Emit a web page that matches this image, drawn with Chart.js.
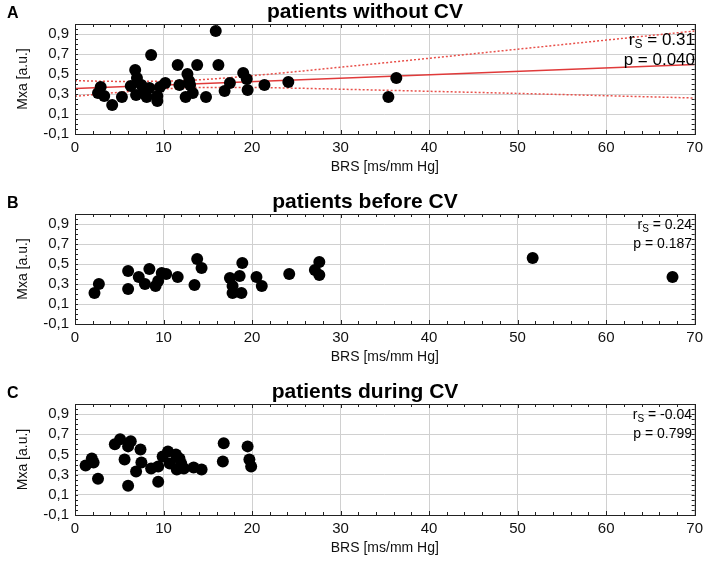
<!DOCTYPE html>
<html>
<head>
<meta charset="utf-8">
<script src="https://cdn.jsdelivr.net/npm/chart.js@4.4.0/dist/chart.umd.min.js"></script>
<style>
    body { margin: 0; background: #fff; }
    canvas { display: block; }
</style>
</head>
<body>
<canvas id="chartA" width="708" height="190"></canvas>
<canvas id="chartB" width="708" height="190"></canvas>
<canvas id="chartC" width="708" height="191"></canvas>
<script>
// Datos
const brsA = [2.9, 2.6, 3.3, 4.2, 5.3, 6.3, 6.8, 7.0, 6.9, 7.5, 7.7, 8.1, 8.4, 8.6, 9.3, 9.3, 9.6, 10.2, 11.6, 11.8,
              12.5, 12.7, 12.9, 13.0, 13.3, 13.8, 14.8, 15.9, 16.2, 16.9, 17.5, 19.0, 19.4, 19.5, 21.4, 24.1, 35.4, 36.3];
const mxaA = [0.37, 0.31, 0.28, 0.19, 0.27, 0.38, 0.54, 0.46, 0.29, 0.39, 0.31, 0.27, 0.36, 0.69, 0.28, 0.23, 0.37, 0.41, 0.59, 0.39,
              0.27, 0.50, 0.43, 0.39, 0.31, 0.59, 0.27, 0.93, 0.59, 0.33, 0.41, 0.51, 0.45, 0.34, 0.39, 0.42, 0.27, 0.46];

const brsB = [2.2, 2.7, 6.0, 6.0, 7.2, 7.9, 8.4, 9.1, 9.4, 9.8, 10.3, 11.6, 13.5, 13.8, 14.3, 17.5, 17.8, 17.8, 18.6, 18.8,
              18.9, 20.5, 21.1, 24.2, 27.1, 27.6, 27.6, 51.7, 67.5];
const mxaB = [0.21, 0.30, 0.43, 0.25, 0.37, 0.30, 0.45, 0.28, 0.33, 0.41, 0.40, 0.37, 0.29, 0.55, 0.46, 0.36, 0.28, 0.21, 0.38, 0.21,
              0.51, 0.37, 0.28, 0.40, 0.44, 0.52, 0.39, 0.56, 0.37];

const brsC = [1.2, 1.9, 2.1, 2.6, 4.5, 5.1, 6.0, 6.3, 5.6, 6.0, 6.9, 7.4, 7.5, 8.6, 9.4, 9.4, 9.9, 10.5, 10.7, 11.4,
              11.8, 11.5, 12.0, 12.3, 13.4, 14.3, 16.8, 16.7, 19.5, 19.7, 19.9];
const mxaC = [0.39, 0.46, 0.42, 0.26, 0.60, 0.65, 0.58, 0.63, 0.45, 0.19, 0.33, 0.55, 0.42, 0.36, 0.38, 0.23, 0.48, 0.53, 0.41, 0.50,
              0.46, 0.35, 0.41, 0.36, 0.37, 0.35, 0.61, 0.43, 0.58, 0.45, 0.38];

// Recta de regresion y banda de confianza (solo panel A)
const fitX = [0, 70];
const fitY = [0.355, 0.595];
const bandX = [0, 5, 10, 15, 20, 25, 30, 40, 50, 60, 70];
const bandUpper = [0.433, 0.426, 0.428, 0.447, 0.483, 0.524, 0.568, 0.657, 0.748, 0.839, 0.930];
const bandLower = [0.277, 0.317, 0.350, 0.366, 0.365, 0.358, 0.348, 0.327, 0.306, 0.283, 0.260];

const yGridValues = [-0.1, 0, 0.1, 0.2, 0.3, 0.4, 0.5, 0.6, 0.7, 0.8, 0.9, 1.0];
const yLabelValues = [-0.1, 0.1, 0.3, 0.5, 0.7, 0.9];

const letters = ['A', 'B', 'C'];
const titles = ['patients without CV', 'patients before CV', 'patients during CV'];
const rsValues = ['0.31', '0.24', '-0.04'];
const pValues = ['0.040', '0.187', '0.799'];

const FONT = "'Liberation Sans', Arial, sans-serif";

function toPoints(xs, ys) {
    return xs.map((x, i) => ({ x: x, y: ys[i] }));
}

// Marco, marcas menores y textos
const framePlugin = {
    id: 'frame',
    afterDraw(chart, args, opts) {
        const ctx = chart.ctx;
        const a = chart.chartArea;
        const xs = chart.scales.x, ys = chart.scales.y;
        ctx.save();
        ctx.strokeStyle = '#222';
        ctx.lineWidth = 1;
        ctx.beginPath();
        for (let v = 0; v <= 70; v += 2) {
            const px = Math.round(xs.getPixelForValue(v)) + 0.5;
            const len = v % 10 === 0 ? 4 : 3;
            ctx.moveTo(px, a.bottom); ctx.lineTo(px, a.bottom - len);
            ctx.moveTo(px, a.top); ctx.lineTo(px, a.top + len);
        }
        for (let k = -2; k <= 20; k++) {
            const py = Math.round(ys.getPixelForValue(k * 0.05)) + 0.5;
            ctx.moveTo(a.left, py); ctx.lineTo(a.left + 3, py);
            ctx.moveTo(a.right, py); ctx.lineTo(a.right - 3, py);
        }
        ctx.stroke();
        ctx.strokeRect(Math.round(a.left) + 0.5, Math.round(a.top) + 0.5,
                       Math.round(a.right - a.left), Math.round(a.bottom - a.top));

        ctx.fillStyle = '#000';
        ctx.textBaseline = 'middle';
        ctx.textAlign = 'left';
        ctx.font = 'bold 16px ' + FONT;
        ctx.fillText(opts.letter, 7, 14);
        ctx.textAlign = 'center';
        ctx.font = 'bold 21px ' + FONT;
        ctx.fillText(opts.title, 365, 12);

        // r_S y p
        const size = opts.statSize;
        const right = opts.statRight;
        const rest = ' = ' + opts.rs;
        ctx.font = size + 'px ' + FONT;
        const wr = ctx.measureText('r').width;
        const wrest = ctx.measureText(rest).width;
        ctx.font = Math.round(size * 0.7) + 'px ' + FONT;
        const ws = ctx.measureText('S').width;
        let x0 = right - wr - ws - wrest;
        ctx.textAlign = 'left';
        ctx.font = size + 'px ' + FONT;
        ctx.fillText('r', x0, opts.statY);
        ctx.font = Math.round(size * 0.7) + 'px ' + FONT;
        ctx.fillText('S', x0 + wr, opts.statY + size * 0.3);
        ctx.font = size + 'px ' + FONT;
        ctx.fillText(rest, x0 + wr + ws, opts.statY);
        ctx.textAlign = 'right';
        ctx.fillText('p = ' + opts.p, right, opts.statY + opts.statGap);
        ctx.restore();
    }
};

function crearPanel(idx, xs, ys, withFit) {
    const datasets = [{
        type: 'scatter',
        data: toPoints(xs, ys),
        backgroundColor: '#000',
        borderWidth: 0,
        pointRadius: 6,
        pointHoverRadius: 6,
        order: 0
    }];
    if (withFit) {
        datasets.push({
            type: 'line',
            data: toPoints(fitX, fitY),
            borderColor: '#e03a3a',
            borderWidth: 1.5,
            pointRadius: 0,
            fill: false,
            order: 1
        });
        [bandUpper, bandLower].forEach(band => {
            datasets.push({
                type: 'line',
                data: toPoints(bandX, band),
                borderColor: '#e8504a',
                borderWidth: 1.5,
                borderDash: [2, 2],
                pointRadius: 0,
                cubicInterpolationMode: 'monotone',
                fill: false,
                order: 1
            });
        });
    }

    const big = idx === 0;
    new Chart(document.getElementById('chart' + letters[idx]), {
        data: { datasets: datasets },
        options: {
            responsive: false,
            animation: false,
            events: [],
            layout: { padding: { top: 24, right: 11, left: 0, bottom: 0 } },
            plugins: {
                legend: { display: false },
                tooltip: { enabled: false },
                frame: {
                    letter: letters[idx],
                    title: titles[idx],
                    rs: rsValues[idx],
                    p: pValues[idx],
                    statSize: big ? 17 : 14,
                    statRight: big ? 695 : 692,
                    statY: big ? 40 : 35,
                    statGap: big ? 20 : 19
                }
            },
            scales: {
                x: {
                    type: 'linear',
                    min: 0,
                    max: 70,
                    ticks: {
                        stepSize: 10,
                        padding: 5,
                        color: '#111',
                        font: { family: FONT, size: 15 }
                    },
                    grid: { color: '#d0d0d0', drawTicks: false },
                    border: { display: false },
                    title: {
                        display: true,
                        text: 'BRS [ms/mm Hg]',
                        color: '#111',
                        font: { family: FONT, size: 14 },
                        padding: { top: 0, bottom: 14 }
                    },
                    afterFit: scale => { scale.height = 56; }
                },
                y: {
                    type: 'linear',
                    min: -0.1,
                    max: 1.0,
                    afterBuildTicks: scale => {
                        scale.ticks = yGridValues.map(v => ({ value: v }));
                    },
                    ticks: {
                        padding: 6,
                        color: '#111',
                        font: { family: FONT, size: 15 },
                        callback: value => {
                            const shown = yLabelValues.some(v => Math.abs(v - value) < 1e-6);
                            return shown ? value.toFixed(1).replace('.', ',') : '';
                        }
                    },
                    grid: { color: '#d0d0d0', drawTicks: false },
                    border: { display: false },
                    title: {
                        display: true,
                        text: 'Mxa [a.u.]',
                        color: '#111',
                        font: { family: FONT, size: 14 },
                        padding: { top: 15, bottom: 0 }
                    },
                    afterFit: scale => { scale.width = 75; }
                }
            }
        },
        plugins: [framePlugin]
    });
}

document.addEventListener('DOMContentLoaded', () => {
    crearPanel(0, brsA, mxaA, true);
    crearPanel(1, brsB, mxaB, false);
    crearPanel(2, brsC, mxaC, false);
});
</script>
</body>
</html>
